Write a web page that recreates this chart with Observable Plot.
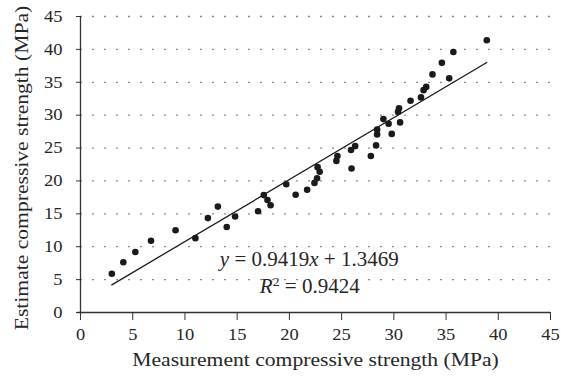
<!DOCTYPE html>
<html><head><meta charset="utf-8">
<script src="https://cdn.jsdelivr.net/npm/d3@7"></script>
<script src="https://cdn.jsdelivr.net/npm/@observablehq/plot@0.6"></script>
<style>html,body{margin:0;padding:0;background:#fff}svg{display:block}</style>
</head><body><div id="chart"></div>
<script>
// Measured (x) and estimated (y) compressive strength, MPa
const measured = [3.0, 4.1, 5.25, 6.75, 9.1, 11.0, 12.2, 13.15, 14.0, 14.8,
  17.0, 17.55, 17.9, 18.2, 19.7, 20.6, 21.7, 22.4, 22.65, 22.9,
  22.7, 24.5, 24.6, 25.95, 25.9, 26.3, 27.8, 28.3, 28.4, 28.4,
  29.0, 29.5, 29.8, 30.4, 30.5, 30.6, 31.6, 32.6, 32.85, 33.1,
  33.7, 34.6, 35.3, 35.7, 38.9];
const estimated = [5.9, 7.65, 9.2, 10.9, 12.5, 11.3, 14.35, 16.1, 13.0, 14.6,
  15.4, 17.85, 17.1, 16.3, 19.5, 17.9, 18.65, 19.7, 20.4, 21.4,
  22.1, 23.05, 23.8, 21.9, 24.7, 25.3, 23.8, 25.4, 27.05, 27.8,
  29.4, 28.7, 27.15, 30.5, 31.05, 28.9, 32.2, 32.7, 33.8, 34.3,
  36.2, 37.95, 35.6, 39.6, 41.4];
// Trend line end points (as drawn)
const trendX = [3.0, 38.9];
const trendY = [4.2, 38.0];
const xTicks = [0, 5, 10, 15, 20, 25, 30, 35, 40, 45];
const yTicks = [0, 5, 10, 15, 20, 25, 30, 35, 40, 45];
const gridValues = [5, 10, 15, 20, 25, 30, 35, 40, 45];
const xTitle = "Measurement compressive strength (MPa)";
const yTitle = "Estimate compressive strength (MPa)";
const eqText = ["y = 0.9419x + 1.3469", "R2 = 0.9424"];
const eqX = [21.9, 21.95];
const eqY = [7.1, 3.0];

const points = measured.map((m, i) => ({m, e: estimated[i]}));
const trend = trendX.map((x, i) => ({x, y: trendY[i]}));
const eq = eqText.map((t, i) => ({t, x: eqX[i], y: eqY[i]}));
const ink = "#262626";

const plot = Plot.plot({
  width: 561, height: 376,
  marginLeft: 80, marginRight: 11, marginTop: 16, marginBottom: 64,
  style: {fontFamily: "'Liberation Serif', serif", background: "#fff", color: ink},
  x: {domain: [0, 45], axis: null},
  y: {domain: [0, 45], axis: null},
  marks: [
    Plot.ruleY(gridValues, {stroke: "#8a8a8a", strokeWidth: 1.3, strokeDasharray: "2,10"}),
    Plot.line(trend, {x: "x", y: "y", stroke: "#1a1a1a", strokeWidth: 1.3}),
    Plot.dot(points, {x: "m", y: "e", r: 3.3, fill: "#1a1a1a"}),
    Plot.ruleY([0], {stroke: "#333", strokeWidth: 1.3, insetLeft: -3}),
    Plot.ruleX([0], {stroke: "#333", strokeWidth: 1.3}),
    Plot.axisX({ticks: xTicks, tickSize: 8, tickPadding: 8, fontSize: 16.5, stroke: "#333", fill: ink, label: null}),
    Plot.axisY({ticks: yTicks, tickSize: 4, tickPadding: 14, fontSize: 16.5, stroke: "#333", fill: ink, label: null}),
    Plot.text([xTitle], {frameAnchor: "bottom", dy: 53, lineAnchor: "bottom", fontSize: 18, fill: ink}),
    Plot.text([yTitle], {frameAnchor: "left", textAnchor: "middle", rotate: -90, dx: -58, dy: 3.5, fontSize: 18, fill: ink}),
    Plot.text(eq, {x: "x", y: "y", text: "t", lineAnchor: "bottom", fontSize: 20, fill: ink})
  ]
});
document.getElementById("chart").appendChild(plot);

const svg = d3.select(plot);
// Italic variables and superscript in the regression labels
svg.selectAll("text").each(function() {
  const t = this.textContent;
  if (t === eqText[0]) {
    this.textContent = "";
    const s = d3.select(this);
    s.append("tspan").attr("font-style", "italic").text("y");
    s.append("tspan").text(" = 0.9419");
    s.append("tspan").attr("font-style", "italic").text("x");
    s.append("tspan").text(" + 1.3469");
  } else if (t === eqText[1]) {
    this.textContent = "";
    const s = d3.select(this);
    s.append("tspan").attr("font-style", "italic").text("R");
    s.append("tspan").attr("font-size", "13px").attr("dy", -7).text("2");
    s.append("tspan").attr("dy", 7).text(" = 0.9424");
  }
});
// The reference typeface is wider than the available one: widen the glyphs
function widen(node, factor) {
  const len = node.getComputedTextLength();
  node.setAttribute("textLength", (len * factor).toFixed(1));
  node.setAttribute("lengthAdjust", "spacingAndGlyphs");
}
svg.selectAll("text").each(function() {
  const t = this.textContent;
  if (t === xTitle || t === yTitle) widen(this, 1.2);
  else if (/^\d+$/.test(t)) widen(this, 1.12);
  else if (t.startsWith("y =") || t.startsWith("R")) widen(this, 1.05);
});
</script>
</body></html>
